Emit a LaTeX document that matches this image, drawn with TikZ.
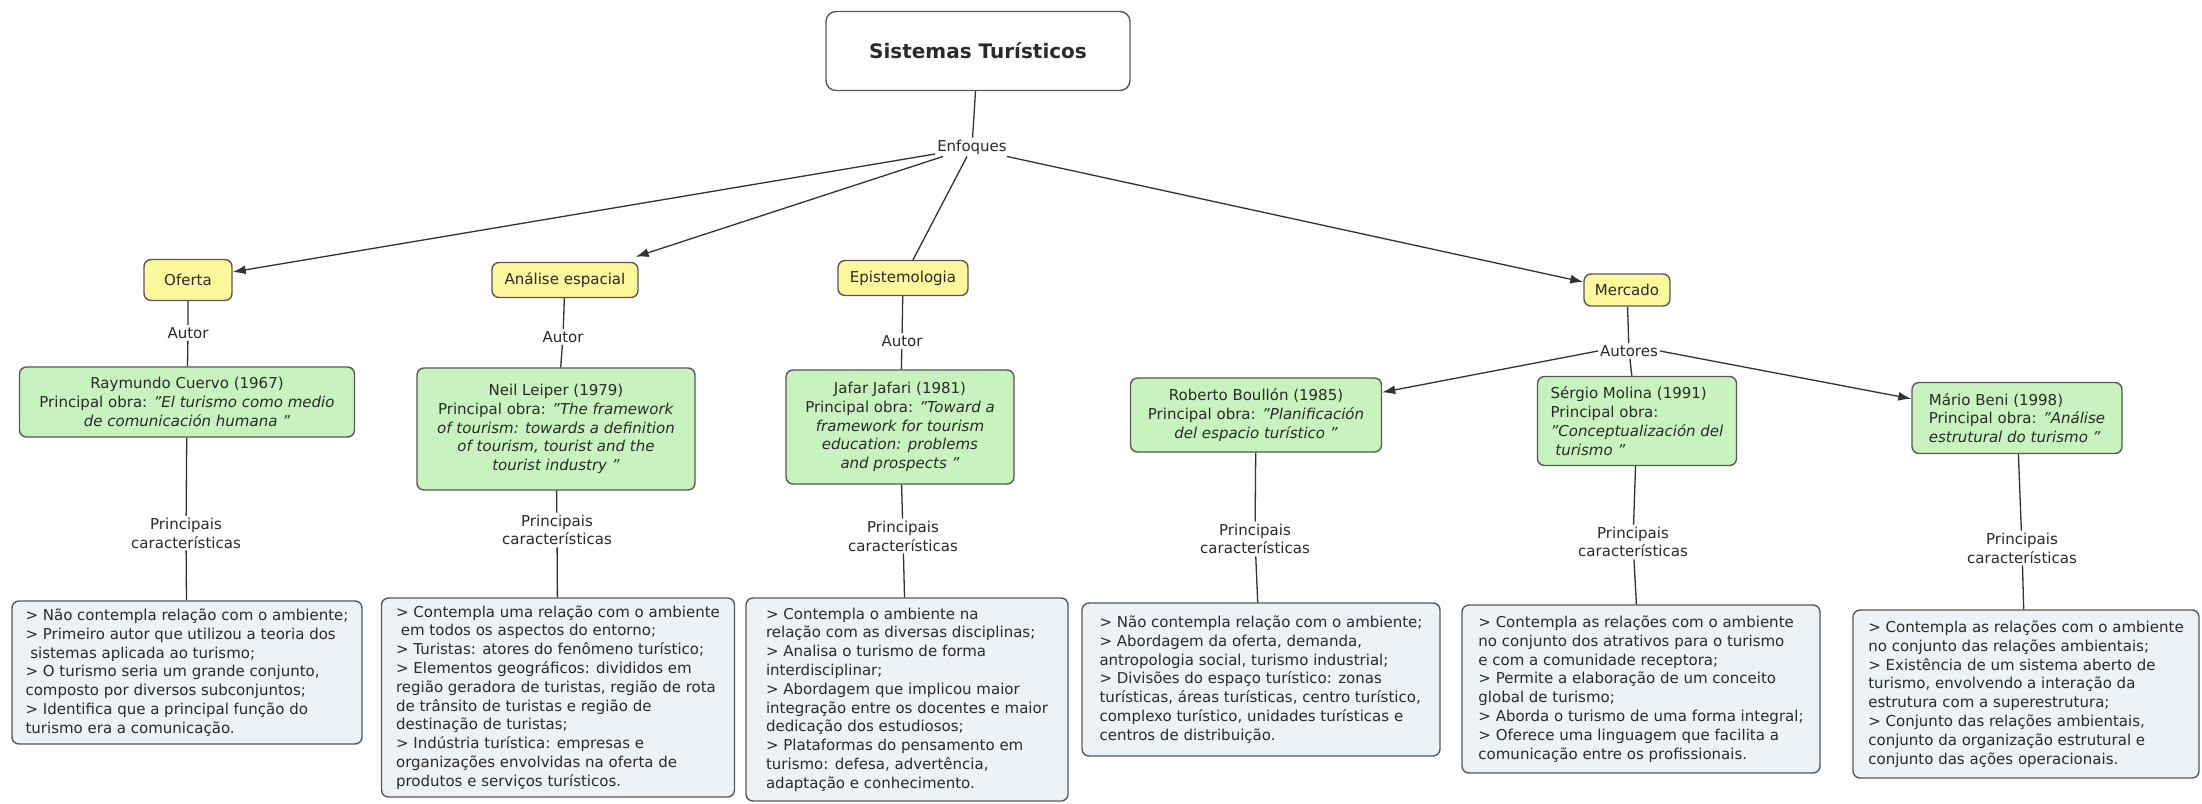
\documentclass[tikz,border=0pt]{standalone}
\usepackage{fontspec}
\setmainfont{DejaVu Sans}
\usetikzlibrary{arrows.meta,calc}

\definecolor{ink}{RGB}{42,42,42}
\definecolor{edge}{RGB}{88,88,88}
\definecolor{wire}{RGB}{50,50,50}
\definecolor{topicfill}{RGB}{252,248,155}
\definecolor{authfill}{RGB}{200,243,190}
\definecolor{notefill}{RGB}{236,242,245}

\begin{document}
\begin{tikzpicture}[x=1pt,y=-1pt,
  base/.style={font=\fontsize{15}{18.8}\selectfont, text=ink},
  box/.style={base, draw=edge, line width=1.4pt, rounded corners=7pt, inner sep=6pt},
  rootbox/.style={box, fill=white, rounded corners=10pt, font=\fontsize{20}{24}\selectfont\bfseries},
  topic/.style={box, fill=topicfill, align=center},
  author/.style={box, fill=authfill},
  notes/.style={box, fill=notefill, align=left},
  lab/.style={base, inner sep=2pt, align=center},
  link/.style={draw=wire, line width=1.3pt},
  arr/.style={link, -{Latex[length=13pt,width=9pt]}},
]
% canvas
\fill[white] (0,0) rectangle (2202,803);
\useasboundingbox (0,0) rectangle (2202,803);

% root and first linking phrase
\node[rootbox, minimum width=304pt, minimum height=79pt] (root) at (978,51) {Sistemas Turísticos};
\node[lab] (enf) at (972,147) {Enfoques};

% approaches
\node[topic, minimum width=88pt, minimum height=41pt] (of) at (188,280) {Oferta};
\node[topic, minimum width=146pt, minimum height=35pt] (an) at (565,280) {Análise espacial};
\node[topic, minimum width=130pt, minimum height=35pt] (ep) at (903,278) {Epistemologia};
\node[topic, minimum width=86pt, minimum height=32pt] (mer) at (1627,290) {Mercado};

% linking phrases
\node[lab] (a1) at (188,333) {Autor};
\node[lab] (a2) at (563,337) {Autor};
\node[lab] (a3) at (902,341) {Autor};
\node[lab] (aut) at (1629,351) {Autores};

% authors
\node[author, align=center, minimum width=335pt, minimum height=70pt] (ray) at (187,402)
  {Raymundo Cuervo (1967)\\Principal obra: \textit{"El turismo como medio}\\\textit{de comunicación humana "}};
\node[author, align=center, minimum width=278pt, minimum height=122pt] (nl) at (556,429)
  {Neil Leiper (1979)\\Principal obra: \textit{"The framework}\\\textit{of tourism: towards a definition}\\\textit{of tourism, tourist and the}\\\textit{tourist industry "}};
\node[author, align=center, minimum width=228pt, minimum height=114pt] (jf) at (900,427)
  {Jafar Jafari (1981)\\Principal obra: \textit{"Toward a}\\\textit{framework for tourism}\\\textit{education: problems}\\\textit{and prospects "}};
\node[author, align=center, minimum width=251pt, minimum height=74pt] (bo) at (1256,415)
  {Roberto Boullón (1985)\\Principal obra: \textit{"Planificación}\\\textit{del espacio turístico "}};
\node[author, align=left, minimum width=199pt, minimum height=89pt] (mo) at (1637,421)
  {Sérgio Molina (1991)\\Principal obra:\\\textit{"Conceptualización del}\\\textit{\ turismo "}};
\node[author, align=left, minimum width=210pt, minimum height=71pt] (bn) at (2017,418)
  {Mário Beni (1998)\\Principal obra: \textit{"Análise}\\\textit{estrutural do turismo "}};

% characteristics phrases
\node[lab] (p1) at (186,533) {Principais\\características};
\node[lab] (p2) at (557,530) {Principais\\características};
\node[lab] (p3) at (903,536) {Principais\\características};
\node[lab] (p4) at (1255,539) {Principais\\características};
\node[lab] (p5) at (1633,542) {Principais\\características};
\node[lab] (p6) at (2022,548) {Principais\\características};

% characteristics
\node[notes, minimum width=350pt, minimum height=143pt] (b1) at (187,672.5)
  {> Não contempla relação com o ambiente;\\
   > Primeiro autor que utilizou a teoria dos\\
   \ sistemas aplicada ao turismo;\\
   > O turismo seria um grande conjunto,\\
   composto por diversos subconjuntos;\\
   > Identifica que a principal função do\\
   turismo era a comunicação.};
\node[notes, minimum width=353pt, minimum height=199pt] (b2) at (558,697.5)
  {> Contempla uma relação com o ambiente\\
   \ em todos os aspectos do entorno;\\
   > Turistas: atores do fenômeno turístico;\\
   > Elementos geográficos: divididos em\\
   região geradora de turistas, região de rota\\
   de trânsito de turistas e região de\\
   destinação de turistas;\\
   > Indústria turística: empresas e\\
   organizações envolvidas na oferta de\\
   produtos e serviços turísticos.};
\node[notes, minimum width=322pt, minimum height=203pt] (b3) at (907,699.5)
  {> Contempla o ambiente na\\
   relação com as diversas disciplinas;\\
   > Analisa o turismo de forma\\
   interdisciplinar;\\
   > Abordagem que implicou maior\\
   integração entre os docentes e maior\\
   dedicação dos estudiosos;\\
   > Plataformas do pensamento em\\
   turismo: defesa, advertência,\\
   adaptação e conhecimento.};
\node[notes, minimum width=358pt, minimum height=153pt] (b4) at (1261,679.5)
  {> Não contempla relação com o ambiente;\\
   > Abordagem da oferta, demanda,\\
   antropologia social, turismo industrial;\\
   > Divisões do espaço turístico: zonas\\
   turísticas, áreas turísticas, centro turístico,\\
   complexo turístico, unidades turísticas e\\
   centros de distribuição.};
\node[notes, minimum width=358pt, minimum height=168pt] (b5) at (1641,689)
  {> Contempla as relações com o ambiente\\
   no conjunto dos atrativos para o turismo\\
   e com a comunidade receptora;\\
   > Permite a elaboração de um conceito\\
   global de turismo;\\
   > Aborda o turismo de uma forma integral;\\
   > Oferece uma linguagem que facilita a\\
   comunicação entre os profissionais.};
\node[notes, minimum width=346pt, minimum height=168pt] (b6) at (2026,694)
  {> Contempla as relações com o ambiente\\
   no conjunto das relações ambientais;\\
   > Existência de um sistema aberto de\\
   turismo, envolvendo a interação da\\
   estrutura com a superestrutura;\\
   > Conjunto das relações ambientais,\\
   conjunto da organização estrutural e\\
   conjunto das ações operacionais.};

% connectors from the root
\draw[link] (root) -- (enf);
\draw[arr] ([yshift=-7pt]enf.west) -- ([yshift=8pt]of.east);
\draw[arr] ([xshift=8pt]enf.south west) -- ([xshift=-3pt,yshift=5pt]an.north east);
\draw[link] ([xshift=-5pt]enf.south) -- ([xshift=10pt]ep.north);
\draw[arr] ([xshift=-2pt]enf.south east) -- ([yshift=8pt]mer.west);

% column connectors
\draw[link] (of) -- (a1) (a1) -- (ray) (ray) -- (p1) (p1) -- (b1);
\draw[link] (an) -- (a2) (a2) -- (nl) (nl) -- (p2) (p2) -- (b2);
\draw[link] (ep) -- (a3) (a3) -- (jf) (jf) -- (p3) (p3) -- (b3);
\draw[link] (mer) -- (aut) (aut) -- (mo);
\draw[arr] (aut.west) -- ([yshift=-15pt]bo.north east);
\draw[arr] (aut.east) -- ([yshift=-17pt]bn.north west);
\draw[link] (bo) -- (p4) (p4) -- (b4);
\draw[link] (mo) -- (p5) (p5) -- (b5);
\draw[link] (bn) -- (p6) (p6) -- (b6);
\end{tikzpicture}
\end{document}
